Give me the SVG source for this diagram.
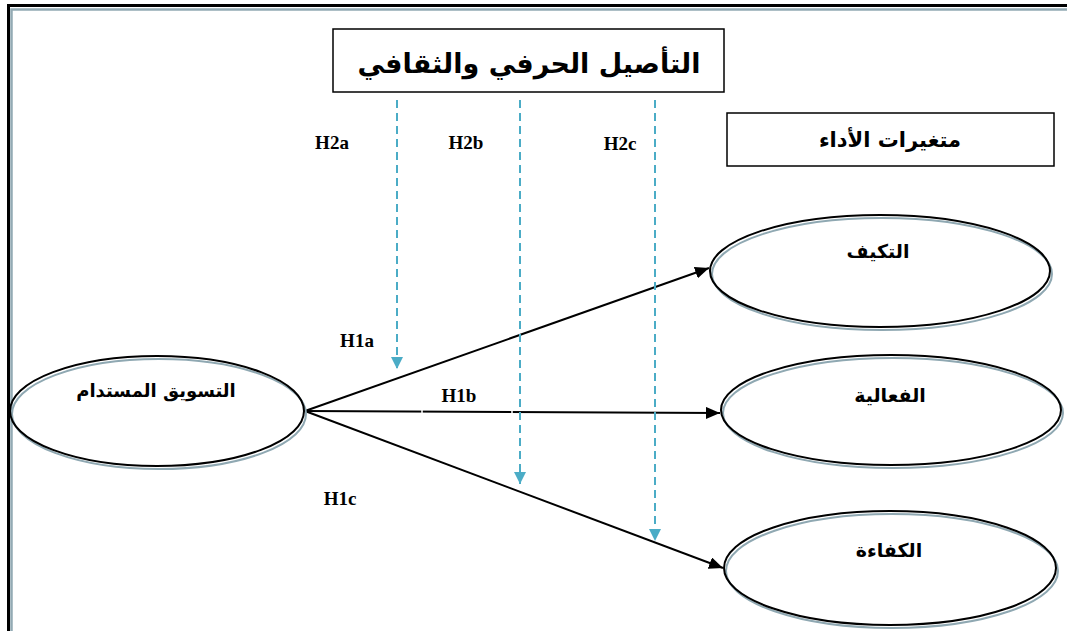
<svg xmlns="http://www.w3.org/2000/svg" width="1067" height="631" viewBox="0 0 1067 631">
<defs>
<style>
.frame{fill:none;stroke:#000;stroke-width:3}
.frame2{fill:none;stroke:#93aab4;stroke-width:2.5}
.box{fill:#fff;stroke:#000;stroke-width:1.5}
.el{fill:none;stroke:#000;stroke-width:2}
.sh{fill:none;stroke:#8fa8b2;stroke-width:2}
.ar{font-family:"DejaVu Sans",sans-serif;font-weight:bold;fill:#000;text-anchor:middle}
.lb{font-family:"Liberation Serif",serif;font-weight:bold;font-size:19px;fill:#000;text-anchor:middle}
.conn{stroke:#000;stroke-width:2;fill:none;marker-end:url(#ab)}
.dash{stroke:#4bacc6;stroke-width:2;stroke-dasharray:8 5;fill:none;marker-end:url(#ad)}
</style>
<marker id="ab" viewBox="0 0 14 12" refX="14" refY="6" markerWidth="14" markerHeight="12" markerUnits="userSpaceOnUse" orient="auto"><path d="M0,0 L14,6 L0,12 Z" fill="#000"/></marker>
<marker id="ad" viewBox="0 0 12 12" refX="12" refY="6" markerWidth="12" markerHeight="12" markerUnits="userSpaceOnUse" orient="auto"><path d="M0,0 L12,6 L0,12 Z" fill="#4bacc6"/></marker>
</defs>
<rect width="1067" height="631" fill="#fff"/>
<g id="frame">
<rect class="frame" x="8.5" y="5.5" width="1080" height="650"/>
<rect class="frame2" x="11.5" y="9.5" width="1080" height="650"/>
</g>
<g id="connectors">
<line class="conn" x1="305" y1="411" x2="709" y2="268"/>
<line class="conn" x1="305" y1="411" x2="720" y2="413"/>
<line class="conn" x1="305" y1="411" x2="723" y2="568"/>
<line x1="422" y1="408" x2="422" y2="416" stroke="#fff" stroke-width="1.5"/>
<line x1="512" y1="408" x2="512" y2="416" stroke="#fff" stroke-width="1.5"/>
<line class="dash" x1="397" y1="100" x2="397" y2="369"/>
<line class="dash" x1="520" y1="100" x2="520" y2="484"/>
<line class="dash" x1="655" y1="100" x2="655" y2="541"/>
<text class="lb" x="332" y="149">H2a</text>
<text class="lb" x="466" y="149">H2b</text>
<text class="lb" x="620" y="150">H2c</text>
<text class="lb" x="357" y="347">H1a</text>
<text class="lb" x="459" y="402">H1b</text>
<text class="lb" x="340" y="505">H1c</text>
</g>
<g id="title">
<rect class="box" x="333" y="29" width="391" height="63"/>
<text class="ar" x="529" y="73" font-size="27">التأصيل الحرفي والثقافي</text>
</g>
<g id="perf">
<rect class="box" x="727" y="113" width="327" height="53"/>
<text class="ar" x="890" y="147" font-size="21">متغيرات الأداء</text>
</g>
<g id="n-marketing">
<ellipse class="sh" cx="159" cy="414" rx="147" ry="55"/>
<ellipse class="el" cx="157" cy="411" rx="147" ry="55"/>
<text class="ar" x="156" y="397" font-size="18">التسويق المستدام</text>
</g>
<g id="n-adapt">
<ellipse class="sh" cx="882" cy="274" rx="170" ry="56"/>
<ellipse class="el" cx="880" cy="271" rx="170" ry="56"/>
<text class="ar" x="878" y="258" font-size="19">التكيف</text>
</g>
<g id="n-effect">
<ellipse class="sh" cx="893" cy="413" rx="170" ry="55"/>
<ellipse class="el" cx="891" cy="410" rx="170" ry="55"/>
<text class="ar" x="890" y="402" font-size="19">الفعالية</text>
</g>
<g id="n-eff">
<ellipse class="sh" cx="892" cy="571" rx="166" ry="57"/>
<ellipse class="el" cx="890" cy="568" rx="166" ry="57"/>
<text class="ar" x="889" y="557" font-size="19">الكفاءة</text>
</g>
</svg>
